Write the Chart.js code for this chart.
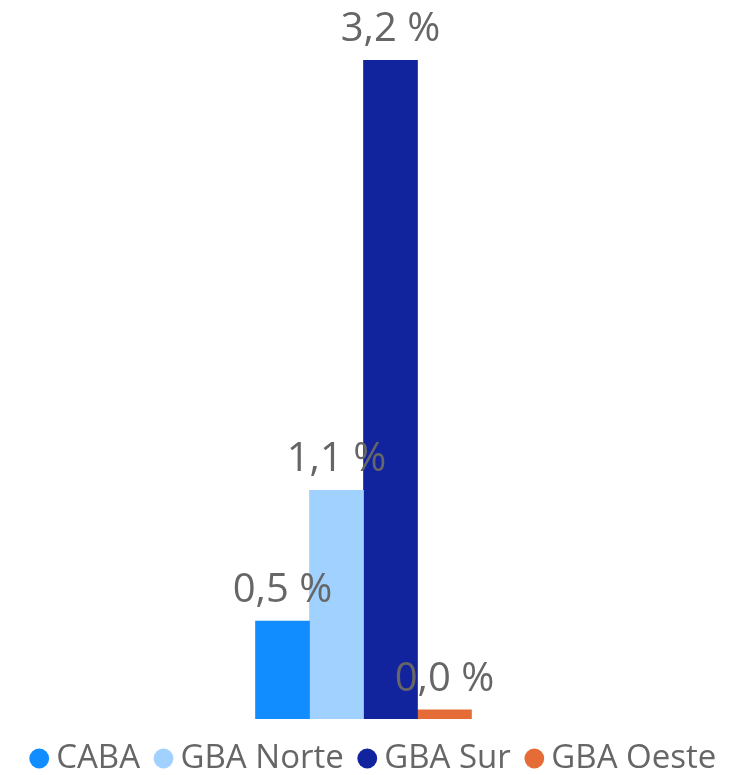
<!DOCTYPE html>
<html>
<head>
<meta charset="utf-8">
<script src="https://cdn.jsdelivr.net/npm/chart.js@4.4.1/dist/chart.umd.min.js"></script>
<style>
  html, body { margin: 0; padding: 0; background: #ffffff; }
  #wrap { width: 745px; height: 775px; }
</style>
</head>
<body>
<div id="wrap"><canvas id="c" width="745" height="775"></canvas></div>
<script>
const categories = [''];
const seriesNames = ['CABA', 'GBA Norte', 'GBA Sur', 'GBA Oeste'];
const cabaValues = [0.476];
const gbaNorteValues = [1.11];
const gbaSurValues = [3.2];
const gbaOesteValues = [0.044];
const seriesColors = ['#118DFF', '#A0D1FF', '#12239E', '#E66C37'];

const seriesValues = [cabaValues, gbaNorteValues, gbaSurValues, gbaOesteValues];
const FONT = "'Open Sans', 'Noto Sans', sans-serif";

function fmt(v) { return v.toFixed(1).replace('.', ',') + ' %'; }

const labelPlugin = {
  id: 'barLabels',
  afterDatasetsDraw(chart) {
    const ctx = chart.ctx;
    ctx.save();
    ctx.font = '40px ' + FONT;
    ctx.fillStyle = '#666666';
    ctx.textAlign = 'center';
    ctx.textBaseline = 'alphabetic';
    chart.data.datasets.forEach((ds, i) => {
      const meta = chart.getDatasetMeta(i);
      meta.data.forEach((bar, j) => {
        ctx.fillText(fmt(ds.data[j]), bar.x, bar.y - 19);
      });
    });
    ctx.restore();
  }
};

const legendLayoutPlugin = {
  id: 'legendLayout',
  beforeInit(chart) {
    const orig = chart.legend.fit;
    chart.legend.fit = function () {
      orig.call(this);
      this.height = 56;
    };
  },
  afterLayout(chart) {
    chart.legend.left += 14;
    chart.legend.right += 14;
  }
};

new Chart(document.getElementById('c'), {
  type: 'bar',
  data: {
    labels: categories,
    datasets: seriesNames.map((name, i) => ({
      label: name,
      data: seriesValues[i],
      backgroundColor: seriesColors[i],
      borderWidth: 0,
      barThickness: 54
    }))
  },
  options: {
    responsive: false,
    animation: false,
    layout: { padding: { top: 60, right: 18, left: 0, bottom: 0 } },
    scales: {
      x: { display: false },
      y: { display: false, min: 0, max: 3.2 }
    },
    plugins: {
      tooltip: { enabled: false },
      legend: {
        position: 'bottom',
        labels: {
          usePointStyle: true,
          pointStyle: 'circle',
          boxWidth: 1,
          boxHeight: 14,
          padding: 23,
          color: '#666666',
          font: { family: FONT, size: 33 }
        }
      }
    }
  },
  plugins: [labelPlugin, legendLayoutPlugin]
});
</script>
</body>
</html>
